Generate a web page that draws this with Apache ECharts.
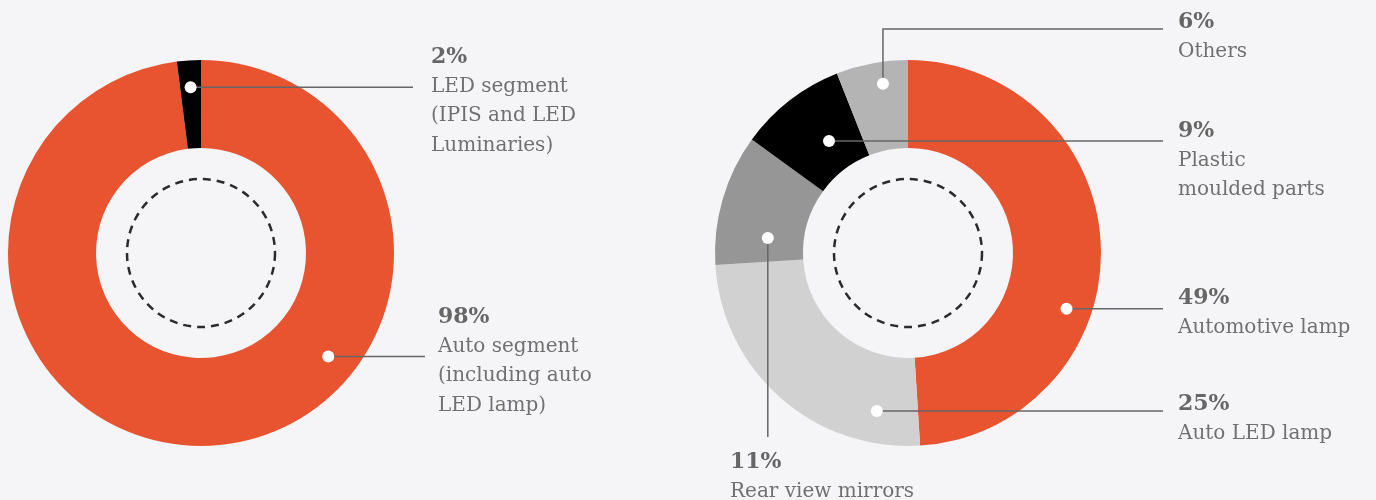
<!DOCTYPE html>
<html>
<head>
<meta charset="utf-8">
<style>
  html, body { margin: 0; padding: 0; background: #f5f5f7; }
  #main { width: 1376px; height: 500px; }
</style>
<script src="https://cdn.jsdelivr.net/npm/echarts@6/dist/echarts.min.js"></script>
</head>
<body>
<div id="main"></div>
<script>
// 数据
var leftNames = ['Auto segment\n(including auto\nLED lamp)', 'LED segment\n(IPIS and LED\nLuminaries)'];
var leftValues = [98, 2];
var rightNames = ['Automotive lamp', 'Auto LED lamp', 'Rear view mirrors', 'Plastic\nmoulded parts', 'Others'];
var rightValues = [49, 25, 11, 9, 6];

// 样式 / 布局
var leftColors = ['#e85430', '#000000'];
var rightColors = ['#e85430', '#d0d1d0', '#959695', '#000000', '#b3b4b3'];
var leftCenter = [201, 253], rightCenter = [908, 253];
var innerR = 105, outerR = 193, dashR = 74;
var fontFamily = 'DejaVu Serif';

// 圆点: [在扇区内的位置比例, 半径]，引导线拐点，标签左上角
var leftLayout = [
  { dot: [0.366, 164], bends: [[425, null]], label: [438, 303] },
  { dot: [0.5, 166], bends: [[413, null]], label: [431, 43] }
];
var rightLayout = [
  { dot: [0.62, 168], bends: [[1163, null]], label: [1178, 284] },
  { dot: [0.164, 161], bends: [[1163, null]], label: [1178, 390] },
  { dot: [0.245, 141], bends: [[null, 437]], label: [730, 448] },
  { dot: [0.58, 137], bends: [[1163, null]], label: [1178, 117] },
  { dot: [0.61, 171], bends: [[null, 29], [1163, null]], label: [1178, 8] }
];

var rich = {
  p: { fontFamily: fontFamily, fontWeight: 'bold', fontSize: 22, lineHeight: 29, fill: '#666666' },
  t: { fontFamily: fontFamily, fontSize: 20, lineHeight: 29.5, fill: '#707070' }
};

// 圆点数据: [半径, 角度(百分比), 占比]
function dotData(values, layout) {
  var start = 0, out = [];
  values.forEach(function (v, i) {
    out.push([layout[i].dot[1], start + layout[i].dot[0] * v, v]);
    start += v;
  });
  return out;
}

function pieSeries(center, names, values, colors) {
  return {
    type: 'pie',
    center: center,
    radius: [innerR, outerR],
    startAngle: 90,
    clockwise: true,
    silent: true,
    label: { show: false },
    labelLine: { show: false },
    data: values.map(function (v, i) {
      return { name: names[i], value: v, itemStyle: { color: colors[i] } };
    }),
    z: 2
  };
}

// 圆点 + 引导线 + 标签
function dotSeries(idx, names, values, layout) {
  return {
    type: 'custom', coordinateSystem: 'polar', polarIndex: idx,
    data: dotData(values, layout),
    silent: true,
    z: 5,
    renderItem: function (params, api) {
      var i = params.dataIndex;
      var L = layout[i];
      var p = api.coord([api.value(0), api.value(1)]);
      var pts = [p];
      L.bends.forEach(function (b) {
        var last = pts[pts.length - 1];
        pts.push([b[0] == null ? last[0] : b[0], b[1] == null ? last[1] : b[1]]);
      });
      var lines = names[i].split('\n').map(function (s) { return '{t|' + s + '}'; });
      return {
        type: 'group',
        children: [
          { type: 'polyline', shape: { points: pts }, style: { stroke: '#666666', lineWidth: 1.5, fill: null } },
          { type: 'circle', shape: { cx: p[0], cy: p[1], r: 6 }, style: { fill: '#ffffff' } },
          {
            type: 'text', x: L.label[0], y: L.label[1],
            style: {
              text: '{p|' + api.value(2) + '%}\n' + lines.join('\n'),
              rich: rich, align: 'left', verticalAlign: 'top'
            }
          }
        ]
      };
    }
  };
}

var myChart = echarts.init(document.getElementById('main'));

var option = {
  backgroundColor: '#f5f5f7',
  animation: false,
  polar: [
    { center: leftCenter, radius: outerR },
    { center: rightCenter, radius: outerR }
  ],
  angleAxis: [
    { polarIndex: 0, type: 'value', min: 0, max: 100, startAngle: 90, clockwise: true, show: false },
    { polarIndex: 1, type: 'value', min: 0, max: 100, startAngle: 90, clockwise: true, show: false }
  ],
  radiusAxis: [
    { polarIndex: 0, type: 'value', min: 0, max: outerR, show: false },
    { polarIndex: 1, type: 'value', min: 0, max: outerR, show: false }
  ],
  graphic: [leftCenter, rightCenter].map(function (c) {
    return {
      type: 'circle',
      shape: { cx: c[0], cy: c[1], r: dashR },
      style: { fill: null, stroke: '#2b2b2b', lineWidth: 2.5, lineDash: [8, 6] },
      silent: true,
      z: 10
    };
  }),
  series: [
    pieSeries(leftCenter, leftNames, leftValues, leftColors),
    pieSeries(rightCenter, rightNames, rightValues, rightColors),
    dotSeries(0, leftNames, leftValues, leftLayout),
    dotSeries(1, rightNames, rightValues, rightLayout)
  ]
};

myChart.setOption(option);
</script>
</body>
</html>
